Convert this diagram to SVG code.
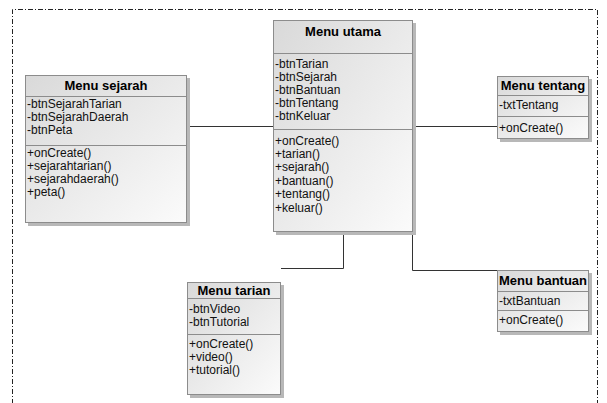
<svg xmlns="http://www.w3.org/2000/svg" width="607" height="403" viewBox="0 0 607 403">
  <style>
    .box { fill: url(#boxFill); stroke: #8c8c8c; stroke-width: 1; }
    .shadow { fill: #b8b8b8; }
    .sep { stroke: #8c8c8c; stroke-width: 1; fill: none; }
    .title { font-family: "Liberation Sans", Arial, sans-serif; font-size: 13px; font-weight: bold; fill: #000; text-anchor: middle; }
    .item { font-family: "Liberation Sans", Arial, sans-serif; font-size: 12px; fill: #111; }
    .link { stroke: #333; stroke-width: 1; fill: none; }
    .frame { stroke: #222; stroke-width: 1; fill: none; stroke-dasharray: 5 2 1 2; }
  </style>
  <defs>
    <linearGradient id="boxFill" x1="0" y1="0" x2="1" y2="1">
      <stop offset="0" stop-color="#d9d9d9"/>
      <stop offset="1" stop-color="#fbfbfb"/>
    </linearGradient>
  </defs>

  <rect width="607" height="403" fill="#ffffff"/>

  <!-- diagram frame (open at the bottom) -->
  <path class="frame" d="M12.5,404 V9.5 H597.5 V404"/>

  <!-- associations -->
  <g id="connectors">
    <path class="link" d="M187,126.5 H273"/>
    <path class="link" d="M413,126.5 H497"/>
    <path class="link" d="M343.5,232 V268.5 H281"/>
    <path class="link" d="M412.5,232 V270.5 H497"/>
  </g>

  <!-- Menu utama -->
  <g id="menu-utama">
    <rect class="shadow" x="276" y="23" width="140" height="212"/>
    <rect class="box" x="273.5" y="20.5" width="139" height="211"/>
    <line class="sep" x1="273.5" y1="53.5" x2="412.5" y2="53.5"/>
    <line class="sep" x1="273.5" y1="129.5" x2="412.5" y2="129.5"/>
    <text class="title" x="343" y="36">Menu utama</text>
    <text class="item" x="275" y="68">-btnTarian</text>
    <text class="item" x="275" y="81">-btnSejarah</text>
    <text class="item" x="275" y="94">-btnBantuan</text>
    <text class="item" x="275" y="107">-btnTentang</text>
    <text class="item" x="275" y="120">-btnKeluar</text>
    <text class="item" x="275" y="145">+onCreate()</text>
    <text class="item" x="275" y="158">+tarian()</text>
    <text class="item" x="275" y="171">+sejarah()</text>
    <text class="item" x="275" y="185">+bantuan()</text>
    <text class="item" x="275" y="198">+tentang()</text>
    <text class="item" x="275" y="212">+keluar()</text>
  </g>

  <!-- Menu sejarah -->
  <g id="menu-sejarah">
    <rect class="shadow" x="28" y="78" width="162" height="148"/>
    <rect class="box" x="25.5" y="75.5" width="161" height="147"/>
    <line class="sep" x1="25.5" y1="96.5" x2="186.5" y2="96.5"/>
    <line class="sep" x1="25.5" y1="145.5" x2="186.5" y2="145.5"/>
    <text class="title" x="106" y="90">Menu sejarah</text>
    <text class="item" x="27" y="108">-btnSejarahTarian</text>
    <text class="item" x="27" y="121">-btnSejarahDaerah</text>
    <text class="item" x="27" y="134">-btnPeta</text>
    <text class="item" x="27" y="157">+onCreate()</text>
    <text class="item" x="27" y="170">+sejarahtarian()</text>
    <text class="item" x="27" y="183">+sejarahdaerah()</text>
    <text class="item" x="27" y="196">+peta()</text>
  </g>

  <!-- Menu tentang -->
  <g id="menu-tentang">
    <rect class="shadow" x="500" y="79" width="92" height="63"/>
    <rect class="box" x="497.5" y="76.5" width="91" height="62"/>
    <line class="sep" x1="497.5" y1="95.5" x2="588.5" y2="95.5"/>
    <line class="sep" x1="497.5" y1="116.5" x2="588.5" y2="116.5"/>
    <text class="title" x="543" y="90">Menu tentang</text>
    <text class="item" x="499" y="109">-txtTentang</text>
    <text class="item" x="499" y="132">+onCreate()</text>
  </g>

  <!-- Menu tarian -->
  <g id="menu-tarian">
    <rect class="shadow" x="190" y="285" width="94" height="113"/>
    <rect class="box" x="187.5" y="282.5" width="93" height="112"/>
    <line class="sep" x1="187.5" y1="298.5" x2="280.5" y2="298.5"/>
    <line class="sep" x1="187.5" y1="334.5" x2="280.5" y2="334.5"/>
    <text class="title" x="234" y="295">Menu tarian</text>
    <text class="item" x="189" y="313">-btnVideo</text>
    <text class="item" x="189" y="326">-btnTutorial</text>
    <text class="item" x="189" y="348">+onCreate()</text>
    <text class="item" x="189" y="361">+video()</text>
    <text class="item" x="189" y="374">+tutorial()</text>
  </g>

  <!-- Menu bantuan -->
  <g id="menu-bantuan">
    <rect class="shadow" x="500" y="273" width="92" height="62"/>
    <rect class="box" x="497.5" y="270.5" width="91" height="61"/>
    <line class="sep" x1="497.5" y1="291.5" x2="588.5" y2="291.5"/>
    <line class="sep" x1="497.5" y1="310.5" x2="588.5" y2="310.5"/>
    <text class="title" x="543" y="285">Menu bantuan</text>
    <text class="item" x="499" y="305">-txtBantuan</text>
    <text class="item" x="499" y="324">+onCreate()</text>
  </g>
</svg>
